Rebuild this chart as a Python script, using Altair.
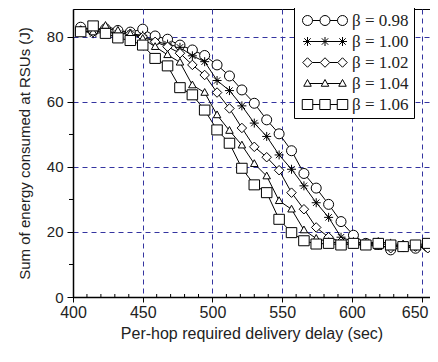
import altair as alt
import pandas as pd

# ---------------- data ----------------
delay = [405.5, 414.4, 423.3, 432.2, 441.1, 450.0, 458.9, 467.8, 476.7, 485.6,
         494.4, 503.3, 512.2, 521.1, 530.0, 538.9, 547.8, 556.7, 565.6, 574.4,
         583.3, 592.2, 601.1, 610.0, 618.9, 627.8, 636.7, 645.6, 654.4]

beta_labels = ["β = 0.98", "β = 1.00", "β = 1.02", "β = 1.04", "β = 1.06"]

energy_098 = [83.0, 82.0, 82.5, 82.0, 81.5, 82.4, 80.3, 79.3, 77.5, 76.0,
              74.3, 71.4, 68.0, 63.7, 59.6, 54.5, 50.2, 45.0, 38.0, 33.5,
              28.5, 23.2, 19.0, 16.5, 16.5, 14.5, 15.5, 15.0, 15.5]
energy_100 = [82.0, 81.0, 81.5, 81.0, 81.0, 80.5, 78.6, 77.8, 76.8, 74.2,
              72.4, 66.6, 63.5, 58.8, 53.5, 49.4, 43.7, 39.3, 34.2, 29.0,
              24.5, 18.4, 17.0, 16.5, 17.0, 16.5, 16.0, 15.5, 15.5]
energy_102 = [82.0, 81.5, 82.0, 81.0, 81.0, 80.0, 78.5, 77.0, 75.0, 71.4,
              68.3, 62.9, 58.0, 52.0, 46.2, 43.0, 39.0, 32.1, 27.0, 21.4,
              18.4, 17.0, 16.5, 16.0, 16.0, 15.0, 16.0, 15.5, 15.0]
energy_104 = [82.0, 81.5, 83.5, 82.0, 81.0, 79.5, 77.0, 74.5, 72.2, 65.2,
              62.9, 56.0, 51.2, 46.7, 41.0, 37.2, 29.6, 27.0, 20.6, 18.0,
              17.0, 16.5, 16.0, 16.0, 15.5, 15.5, 16.0, 15.5, 16.0]
energy_106 = [81.6, 83.4, 81.1, 79.7, 78.9, 77.5, 73.4, 71.1, 64.4, 62.2,
              57.5, 51.4, 47.3, 39.6, 34.5, 32.1, 23.9, 19.8, 17.3, 16.3,
              16.5, 16.0, 16.5, 16.0, 16.5, 16.0, 15.5, 16.0, 16.5]

x_ticks = [400, 450, 500, 550, 600, 650]
x_minor = [410, 420, 430, 440, 460, 470, 480, 490, 510, 520, 530, 540,
           560, 570, 580, 590, 610, 620, 630, 640]
y_ticks = [0, 20, 40, 60, 80]
y_minor = [10, 30, 50, 70]

series = [energy_098, energy_100, energy_102, energy_104, energy_106]
rows = []
for lab, vals in zip(beta_labels, series):
    for xv, yv in zip(delay, vals):
        rows.append({"delay": xv, "energy": yv, "series": lab})
df = pd.DataFrame(rows)

# ---------------- styling ----------------
W, H = 357, 288
GRID = "#3434a0"
TXT = "#222222"

xscale = alt.Scale(domain=[400, 656], nice=False, zero=False)
yscale = alt.Scale(domain=[0, 88.6], nice=False)


def circle(cx, r=1.0):
    return f"M{cx - r},0A{r},{r},0,1,1,{cx + r},0A{r},{r},0,1,1,{cx - r},0Z"


def star(cx, r=0.9):
    d = round(r * 0.71, 3)
    return (f"M{cx},{-r}L{cx},{r}M{cx - r},0L{cx + r},0"
            f"M{cx - d},{-d}L{cx + d},{d}M{cx - d},{d}L{cx + d},{-d}")


def diamond(cx, r=0.95):
    return f"M{cx},{-r}L{cx + r},0L{cx},{r}L{cx - r},0Z"


def triangle(cx):
    return f"M{cx},-0.8L{cx + 0.75},0.55L{cx - 0.75},0.55Z"


def square(cx):
    return f"M{cx - 1.05},-1L{cx + 1.05},-1L{cx + 1.05},1L{cx - 1.05},1Z"


makers = [circle, star, diamond, triangle, square]
half_w = [1.0, 0.0, 0.95, 0.44, 1.05]
point_paths = [m(0) for m in makers]

SP = 3.5
legend_paths = []
for m, hw in zip(makers, half_w):
    p = "".join(m(c) for c in (0, SP, round(2 * SP, 2)))
    p += (f"M{hw},0L{round(SP - hw, 2)},0"
          f"M{round(SP + hw, 2)},0L{round(2 * SP - hw, 2)},0")
    legend_paths.append(p)

base = alt.Chart(df)

x_enc = alt.X("delay:Q", scale=xscale,
              axis=alt.Axis(values=x_ticks, grid=True, gridDash=[5, 4],
                            gridColor=GRID, gridWidth=1, tickSize=5,
                            labelPadding=2, titlePadding=5, labelFlush=False,
                            labelOffset={"condition": {"test": "datum.value == 650",
                                                       "value": -7},
                                         "value": 0},
                            title="Per-hop required delivery delay (sec)"))
y_enc = alt.Y("energy:Q", scale=yscale,
              axis=alt.Axis(values=y_ticks, grid=True, gridDash=[5, 4],
                            gridColor=GRID, gridWidth=1, tickSize=6,
                            labelPadding=4, titlePadding=14, labelFlush=False,
                            title="Sum of energy consumed at RSUs (J)"))

lines = base.mark_line(color="black", strokeWidth=1).encode(
    x=x_enc, y=y_enc, detail="series:N")

points = base.mark_point(filled=True, fill="white", stroke="black",
                         strokeWidth=1, size=100, opacity=1).encode(
    x="delay:Q", y="energy:Q",
    shape=alt.Shape("series:N",
                    scale=alt.Scale(domain=beta_labels, range=point_paths),
                    legend=None))

legend_layer = base.mark_point(filled=False, color="black",
                               strokeWidth=1, size=100, opacity=0).encode(
    x="delay:Q", y="energy:Q",
    shape=alt.Shape("series:N",
                    scale=alt.Scale(domain=beta_labels, range=legend_paths),
                    legend=alt.Legend(title=None, orient="none",
                                      legendX=221, legendY=-2,
                                      padding=5, strokeColor="black",
                                      fillColor="white",
                                      labelFont="Liberation Serif",
                                      labelFontSize=17, labelColor=TXT,
                                      labelOffset=36, rowPadding=3,
                                      symbolSize=100, symbolOpacity=1,
                                      symbolStrokeColor="black",
                                      symbolStrokeWidth=1))
)

xminor_df = pd.DataFrame({"v": x_minor})
yminor_df = pd.DataFrame({"v": y_minor})

xminor = alt.Chart(xminor_df).mark_rule(color="black", strokeWidth=1).encode(
    x=alt.X("v:Q", scale=xscale), y=alt.value(H - 3), y2=alt.value(H))
yminor = alt.Chart(yminor_df).mark_rule(color="black", strokeWidth=1).encode(
    y=alt.Y("v:Q", scale=yscale), x=alt.value(-4), x2=alt.value(0))

chart = alt.layer(lines, xminor, yminor, points, legend_layer).resolve_scale(
    shape="independent"
).properties(
    width=W, height=H,
    autosize=alt.AutoSizeParams(type="none"),
    padding={"left": 65, "top": 1, "right": 0, "bottom": 52},
).configure_view(
    stroke="black", strokeWidth=1
).configure_axis(
    domainColor="black", domainWidth=1.5, tickColor="black", tickWidth=1,
    labelFont="Liberation Sans", titleFont="Liberation Sans",
    labelFontSize=16, titleFontSize=16, titleFontWeight="normal",
    labelColor=TXT, titleColor=TXT
).configure_axisY(
    labelFontSize=15, titleFontSize=15
)

chart.save("out.html", embed_options={"renderer": "svg", "actions": False})
